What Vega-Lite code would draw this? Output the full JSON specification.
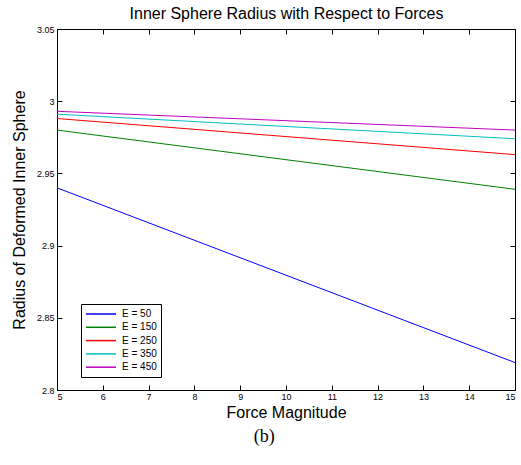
{
  "$schema": "https://vega.github.io/schema/vega-lite/v6.json",
  "autosize": "none",
  "width": 458,
  "height": 361,
  "padding": {"left": 57, "top": 29, "right": 6, "bottom": 75},
  "background": "white",
  "title": {"text": "(b)", "orient": "bottom", "frame": "bounds", "font": "Liberation Serif", "fontSize": 18, "fontWeight": "normal", "color": "black", "offset": 8, "anchor": "middle"},
  "config": {
    "view": {"stroke": "black", "strokeWidth": 1},
    "axis": {"domainColor": "black", "tickColor": "black", "labelColor": "black", "titleColor": "black", "labelFont": "Liberation Sans", "titleFont": "Liberation Sans", "grid": false}
  },
  "data": {"values": [
    {"force": 5, "radius": 2.940, "E": "E = 50"},
    {"force": 10, "radius": 2.8795, "E": "E = 50"},
    {"force": 15, "radius": 2.819, "E": "E = 50"},
    {"force": 5, "radius": 2.980, "E": "E = 150"},
    {"force": 10, "radius": 2.9595, "E": "E = 150"},
    {"force": 15, "radius": 2.939, "E": "E = 150"},
    {"force": 5, "radius": 2.988, "E": "E = 250"},
    {"force": 10, "radius": 2.9755, "E": "E = 250"},
    {"force": 15, "radius": 2.963, "E": "E = 250"},
    {"force": 5, "radius": 2.991, "E": "E = 350"},
    {"force": 10, "radius": 2.9825, "E": "E = 350"},
    {"force": 15, "radius": 2.974, "E": "E = 350"},
    {"force": 5, "radius": 2.993, "E": "E = 450"},
    {"force": 10, "radius": 2.9865, "E": "E = 450"},
    {"force": 15, "radius": 2.980, "E": "E = 450"}
  ]},
  "resolve": {"axis": {"x": "independent", "y": "independent"}},
  "layer": [
    {
      "mark": {"type": "line", "strokeWidth": 1},
      "encoding": {
        "x": {"field": "force", "type": "quantitative", "scale": {"domain": [5, 15], "nice": false},
          "axis": {"orient": "bottom", "values": [5,6,7,8,9,10,11,12,13,14,15], "tickSize": -5, "labelPadding": 7, "labelFontSize": 9, "title": "Force Magnitude", "titleFontSize": 16, "titleFontWeight": "normal", "titlePadding": 3}},
        "y": {"field": "radius", "type": "quantitative", "scale": {"domain": [2.8, 3.05], "nice": false, "zero": false},
          "axis": {"orient": "left", "values": [2.8, 2.85, 2.9, 2.95, 3, 3.05], "format": "~g", "tickSize": -5, "labelPadding": 8, "labelFontSize": 9, "title": "Radius of Deformed Inner Sphere", "titleFontSize": 16, "titleFontWeight": "normal", "titlePadding": 9}},
        "color": {"field": "E", "type": "nominal", "sort": ["E = 50", "E = 150", "E = 250", "E = 350", "E = 450"],
          "scale": {"domain": ["E = 50", "E = 150", "E = 250", "E = 350", "E = 450"], "range": ["#0000ff", "#008000", "#ff0000", "#00bfbf", "#bf00bf"]},
          "legend": {"title": null, "orient": "none", "legendX": 24, "legendY": 275, "strokeColor": "black", "fillColor": "white", "padding": 4, "symbolType": "M-1,0H5", "symbolSize": 100, "symbolStrokeWidth": 1.5, "labelFont": "Liberation Sans", "labelFontSize": 10, "labelColor": "black", "labelOffset": 25, "rowPadding": 2.3, "symbolLimit": 0}}
      }
    },
    {
      "mark": {"type": "line", "strokeOpacity": 0},
      "encoding": {
        "x": {"field": "force", "type": "quantitative",
          "axis": {"orient": "top", "values": [5,6,7,8,9,10,11,12,13,14,15], "tickSize": -5, "labels": false, "title": "Inner Sphere Radius with Respect to Forces", "titleFontSize": 16, "titleFontWeight": "normal", "titlePadding": 7}},
        "y": {"field": "radius", "type": "quantitative",
          "axis": {"orient": "right", "values": [2.8, 2.85, 2.9, 2.95, 3, 3.05], "tickSize": -5, "labels": false, "title": null}},
        "detail": {"field": "E"}
      }
    }
  ]
}
